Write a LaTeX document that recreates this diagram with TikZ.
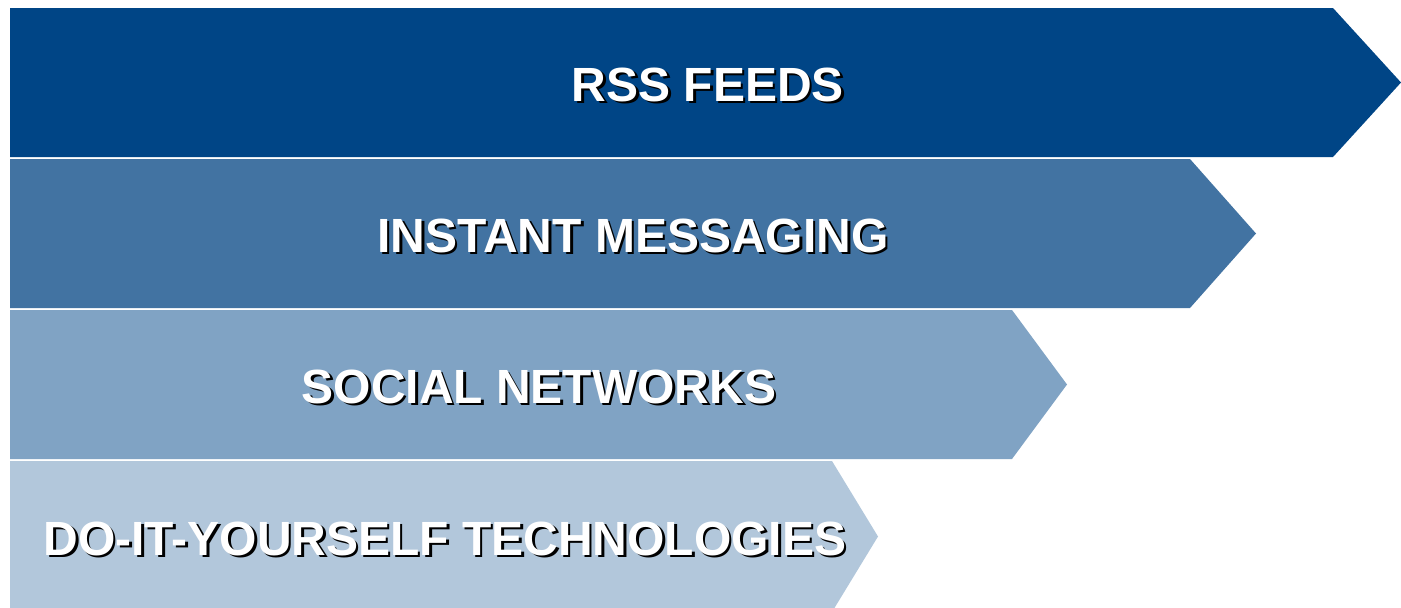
\documentclass[tikz,border=0pt]{standalone}
\usepackage{fontspec}
\setmainfont{Liberation Sans}
\definecolor{cA}{RGB}{0,69,134}
\definecolor{cB}{RGB}{66,115,162}
\definecolor{cC}{RGB}{128,163,196}
\definecolor{cD}{RGB}{178,199,219}
\tikzset{
  lbl/.style={font=\fontsize{48}{48}\selectfont\bfseries, text=white, inner sep=0pt},
  lblshadow/.style={font=\fontsize{48}{48}\selectfont\bfseries, text=black, inner sep=0pt},
}
\begin{document}
\begin{tikzpicture}[x=1pt,y=-1pt]
\useasboundingbox (0,0) rectangle (1401,608);
\clip (0,0) rectangle (1401,608);
\fill[white] (0,0) rectangle (1401,608);
% arrows
\fill[cA] (10,8) -- (1333,8) -- (1401,82.5) -- (1333,157) -- (10,157) -- cycle;
\fill[cB] (10,159) -- (1190,159) -- (1256,233.5) -- (1190,308) -- (10,308) -- cycle;
\fill[cC] (10,310) -- (1012,310) -- (1067,384.5) -- (1012,459) -- (10,459) -- cycle;
\fill[cD] (10,461) -- (832,461) -- (878,536.5) -- (832,612) -- (10,612) -- cycle;
% labels
\node[lblshadow] at (710.5,87) {RSS FEEDS};
\node[lbl] (rss) at (708,84.5) {RSS FEEDS};
\node[lblshadow] at (635.5,238) {INSTANT MESSAGING};
\node[lbl] (im) at (633,235.5) {INSTANT MESSAGING};
\node[lblshadow] at (541.5,389) {SOCIAL NETWORKS};
\node[lbl] (sn) at (539,386.5) {SOCIAL NETWORKS};
\node[lblshadow] at (447.5,541) {DO-IT-YOURSELF TECHNOLOGIES};
\node[lbl] (diy) at (445,538.5) {DO-IT-YOURSELF TECHNOLOGIES};
\end{tikzpicture}
\end{document}
